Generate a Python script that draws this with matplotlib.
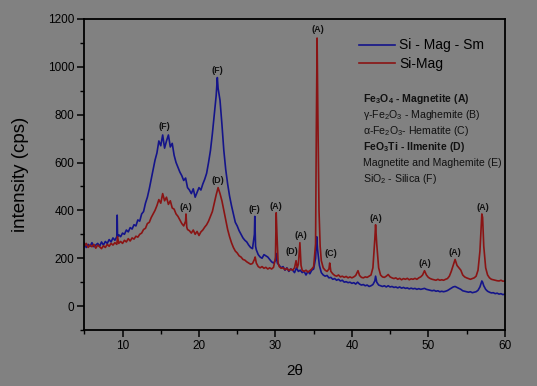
import matplotlib
matplotlib.use("Agg")
import matplotlib.pyplot as plt
from matplotlib.ticker import MultipleLocator

plt.rcParams['font.family'] = ['Liberation Sans', 'DejaVu Sans']
plt.rcParams['mathtext.default'] = 'regular'

# ---- data ----
two_theta_sm = [5.0, 5.25, 5.5, 5.75, 6.0, 6.25, 6.5, 6.75, 7.0, 7.25, 7.5, 7.75, 8.0, 8.25, 8.5, 8.75,
                9.0, 9.25, 9.3, 9.35, 9.5, 9.75, 10.0, 10.25, 10.5, 10.75, 11.0, 11.25, 11.5, 11.75,
                12.0, 12.25, 12.5, 12.75, 13.0, 13.25, 13.5, 13.75, 14.0, 14.25, 14.5, 14.75, 15.0,
                15.25, 15.5, 15.75, 16.0, 16.25, 16.5, 16.75, 17.0, 17.25, 17.5, 17.75, 18.0, 18.25,
                18.5, 18.75, 19.0, 19.25, 19.5, 19.75, 20.0, 20.25, 20.5, 20.75, 21.0, 21.25, 21.5,
                21.75, 22.0, 22.25, 22.4, 22.5, 22.75, 23.0, 23.25, 23.5, 23.75, 24.0, 24.25, 24.5,
                24.75, 25.0, 25.25, 25.5, 25.75, 26.0, 26.25, 26.5, 26.75, 27.0, 27.25, 27.3, 27.4,
                27.5, 27.75, 28.0, 28.25, 28.5, 28.75, 29.0, 29.25, 29.5, 29.75, 30.0, 30.1, 30.25,
                30.5, 30.75, 31.0, 31.25, 31.5, 31.75, 32.0, 32.25, 32.5, 32.75, 33.0, 33.25, 33.5,
                33.75, 34.0, 34.25, 34.5, 34.75, 35.0, 35.25, 35.4, 35.5, 35.75, 36.0, 36.25, 36.5,
                36.75, 37.0, 37.25, 37.5, 37.75, 38.0, 38.25, 38.5, 38.75, 39.0, 39.25, 39.5, 39.75,
                40.0, 40.25, 40.5, 40.75, 41.0, 41.25, 41.5, 41.75, 42.0, 42.25, 42.5, 42.75, 43.0,
                43.1, 43.25, 43.5, 43.75, 44.0, 44.25, 44.5, 44.75, 45.0, 45.25, 45.5, 45.75, 46.0,
                46.25, 46.5, 46.75, 47.0, 47.25, 47.5, 47.75, 48.0, 48.25, 48.5, 48.75, 49.0, 49.25,
                49.5, 49.75, 50.0, 50.25, 50.5, 50.75, 51.0, 51.25, 51.5, 51.75, 52.0, 52.25, 52.5,
                52.75, 53.0, 53.25, 53.5, 53.75, 54.0, 54.25, 54.5, 54.75, 55.0, 55.25, 55.5, 55.75,
                56.0, 56.25, 56.5, 56.75, 57.0, 57.1, 57.25, 57.5, 57.75, 58.0, 58.25, 58.5, 58.75,
                59.0, 59.25, 59.5, 59.75, 60.0]
intensity_sm = [262, 245, 258, 250, 265, 248, 255, 262, 250, 268, 255, 270, 262, 278, 268, 285,
                275, 290, 380, 290, 298, 290, 305, 300, 318, 310, 328, 322, 340, 335,
                360, 355, 385, 395, 430, 455, 490, 530, 570, 610, 640, 690, 670,
                715, 660, 690, 715, 665, 680, 630, 600, 580, 560, 545, 525, 535,
                495, 485, 470, 490, 455, 475, 495, 485, 510, 530, 555, 600, 650,
                720, 800, 880, 955, 910, 860, 760, 650, 570, 510, 460, 420, 385,
                350, 335, 315, 300, 285, 275, 268, 255, 245, 240, 300, 375, 250,
                235, 215, 205, 200, 215, 210, 205, 195, 185, 180, 190, 220, 180,
                170, 160, 165, 150, 160, 145, 155, 150, 140, 160, 145, 150, 140,
                145, 130, 145, 135, 150, 155, 200, 290, 240, 170, 140, 130, 125,
                128, 118, 120, 112, 115, 108, 112, 105, 108, 100, 102, 98, 100,
                95, 98, 92, 100, 92, 88, 90, 85, 88, 82, 85, 90, 105,
                125, 100, 88, 85, 82, 85, 80, 85, 80, 82, 78, 80, 76,
                80, 75, 78, 74, 76, 72, 75, 72, 74, 70, 73, 70, 72,
                74, 70, 68, 66, 64, 66, 62, 64, 60, 62, 60, 62, 65,
                70, 75, 80, 82, 78, 74, 70, 64, 62, 60, 58, 60, 56,
                58, 60, 66, 80, 105, 100, 85, 70, 62, 58, 55, 56, 52,
                54, 50, 52, 48, 50]

two_theta_mag = [5.0, 5.25, 5.5, 5.75, 6.0, 6.25, 6.5, 6.75, 7.0, 7.25, 7.5, 7.75, 8.0, 8.25, 8.5, 8.75,
                 9.0, 9.25, 9.35, 9.5, 9.75, 10.0, 10.25, 10.5, 10.75, 11.0, 11.25, 11.5, 11.75,
                 12.0, 12.25, 12.5, 12.75, 13.0, 13.25, 13.5, 13.75, 14.0, 14.25, 14.5, 14.75, 15.0,
                 15.25, 15.5, 15.75, 16.0, 16.25, 16.5, 16.75, 17.0, 17.25, 17.5, 17.75, 18.0, 18.25,
                 18.3, 18.4, 18.5, 18.75, 19.0, 19.25, 19.5, 19.75, 20.0, 20.25, 20.5, 20.75, 21.0,
                 21.25, 21.5, 21.75, 22.0, 22.25, 22.5, 22.75, 23.0, 23.25, 23.5, 23.75, 24.0, 24.25,
                 24.5, 24.75, 25.0, 25.25, 25.5, 25.75, 26.0, 26.25, 26.5, 26.75, 27.0, 27.25, 27.35,
                 27.5, 27.75, 28.0, 28.25, 28.5, 28.75, 29.0, 29.25, 29.5, 29.75, 30.0, 30.1, 30.2,
                 30.35, 30.5, 30.75, 31.0, 31.25, 31.5, 31.75, 32.0, 32.25, 32.5, 32.7, 32.85, 33.0,
                 33.2, 33.35, 33.5, 33.75, 34.0, 34.25, 34.5, 34.75, 35.0, 35.25, 35.35, 35.45, 35.55,
                 35.7, 35.85, 36.0, 36.25, 36.5, 36.75, 37.0, 37.1, 37.25, 37.5, 37.75, 38.0, 38.25,
                 38.5, 38.75, 39.0, 39.25, 39.5, 39.75, 40.0, 40.25, 40.5, 40.8, 41.0, 41.25, 41.5,
                 41.75, 42.0, 42.25, 42.5, 42.75, 43.0, 43.1, 43.25, 43.5, 43.75, 44.0, 44.25, 44.5,
                 44.75, 45.0, 45.25, 45.5, 45.75, 46.0, 46.25, 46.5, 46.75, 47.0, 47.25, 47.5, 47.75,
                 48.0, 48.25, 48.5, 48.75, 49.0, 49.25, 49.5, 49.75, 50.0, 50.25, 50.5, 50.75, 51.0,
                 51.25, 51.5, 51.75, 52.0, 52.25, 52.5, 52.75, 53.0, 53.25, 53.5, 53.75, 54.0, 54.25,
                 54.5, 54.75, 55.0, 55.25, 55.5, 55.75, 56.0, 56.25, 56.5, 56.75, 57.0, 57.1, 57.25,
                 57.5, 57.75, 58.0, 58.25, 58.5, 58.75, 59.0, 59.25, 59.5, 59.75, 60.0]
intensity_mag = [250, 262, 245, 255, 248, 258, 242, 255, 248, 240, 252, 245, 258, 250, 262, 255,
                 265, 258, 290, 262, 270, 262, 275, 268, 282, 272, 285, 280, 292,
                 288, 300, 305, 320, 325, 345, 350, 370, 385, 400, 420, 445, 430,
                 470, 440, 455, 425, 440, 410, 405, 385, 375, 360, 345, 335, 355,
                 385, 330, 320, 315, 305, 318, 300, 312, 295, 310, 318, 330, 340,
                 355, 375, 395, 430, 465, 495, 470, 440, 400, 360, 320, 290, 265,
                 245, 230, 222, 210, 205, 195, 192, 185, 180, 175, 178, 195, 205,
                 180, 165, 160, 165, 158, 162, 155, 160, 155, 162, 200, 390, 300,
                 180, 165, 158, 160, 152, 158, 148, 155, 150, 160, 190, 160, 175,
                 265, 170, 150, 145, 150, 142, 148, 155, 165, 260, 740, 1120, 800,
                 400, 250, 190, 160, 150, 145, 155, 180, 145, 135, 128, 125, 130,
                 122, 125, 120, 124, 118, 122, 118, 122, 128, 148, 128, 120, 118,
                 122, 120, 125, 130, 160, 280, 340, 260, 160, 130, 122, 120, 125,
                 132, 122, 118, 115, 118, 112, 116, 110, 115, 112, 116, 110, 114,
                 112, 116, 112, 118, 122, 130, 148, 130, 120, 115, 112, 110, 108,
                 112, 108, 110, 108, 112, 115, 125, 145, 170, 195, 170, 160, 150,
                 130, 122, 118, 115, 112, 115, 118, 125, 150, 230, 385, 370, 250,
                 160, 130, 118, 112, 110, 108, 106, 105, 108, 104, 105]

series_labels = ['Si - Mag - Sm', 'Si-Mag']
peak_labels = ['(F)', '(F)', '(A)', '(D)', '(F)', '(A)', '(D)', '(A)', '(A)', '(C)',
               '(A)', '(A)', '(A)', '(A)']
peak_x = [15.5, 22.4, 18.3, 22.5, 27.3, 30.1, 32.1, 33.3, 35.5, 37.2, 43.2, 49.5, 53.5, 57.1]
peak_y = [752, 984, 412, 526, 403, 417, 227, 296, 1154, 219, 366, 177, 223, 412]
phase_lines = [r'Fe$_3$O$_4$ - Magnetite (A)', r'γ-Fe$_2$O$_3$ - Maghemite (B)',
               r'α-Fe$_2$O$_3$- Hematite (C)', r'FeO$_3$Ti - Ilmenite (D)',
               'Magnetite and Maghemite (E)', r'SiO$_2$ - Silica (F)']

bg = '#818181'
fig = plt.figure(figsize=(5.37, 3.86), dpi=100, facecolor=bg)
ax = fig.add_axes([0.157, 0.145, 0.783, 0.806], facecolor=bg)

ax.plot(two_theta_sm, intensity_sm, color='#14148a', lw=1.2, label=series_labels[0])
ax.plot(two_theta_mag, intensity_mag, color='#8a1414', lw=1.2, label=series_labels[1])

ax.set_xlim(5, 60)
ax.set_ylim(-100, 1200)
ax.xaxis.set_major_locator(MultipleLocator(10))
ax.xaxis.set_minor_locator(MultipleLocator(5))
ax.yaxis.set_major_locator(MultipleLocator(200))
ax.yaxis.set_minor_locator(MultipleLocator(100))
ax.tick_params(which='major', direction='out', length=5, width=1.1, labelsize=8.5, pad=2)
ax.tick_params(which='minor', direction='out', length=3, width=1.0)
for s in ax.spines.values():
    s.set_linewidth(1.3)
    s.set_color('black')

ax.set_xlabel('2θ', fontsize=11, labelpad=9)
ax.set_ylabel('intensity (cps)', fontsize=13.5, labelpad=14)

for t, x, y in zip(peak_labels, peak_x, peak_y):
    ax.text(x, y, t, fontsize=6.5, fontweight='bold', ha='center', va='center', color='#111111')

leg = ax.legend(loc='upper left', bbox_to_anchor=(0.64, 0.955), frameon=False, fontsize=10,
                handlelength=2.6, handletextpad=0.3, labelspacing=0.35, borderaxespad=0)

for i, line in enumerate(phase_lines):
    ax.text(0.663, 0.743 - i * 0.0515, line, transform=ax.transAxes, fontsize=7.6,
            fontweight='bold' if i in (0, 3) else 'normal', ha='left', va='center', color='#111111')

fig.savefig('out.png', dpi=100, facecolor=bg)
